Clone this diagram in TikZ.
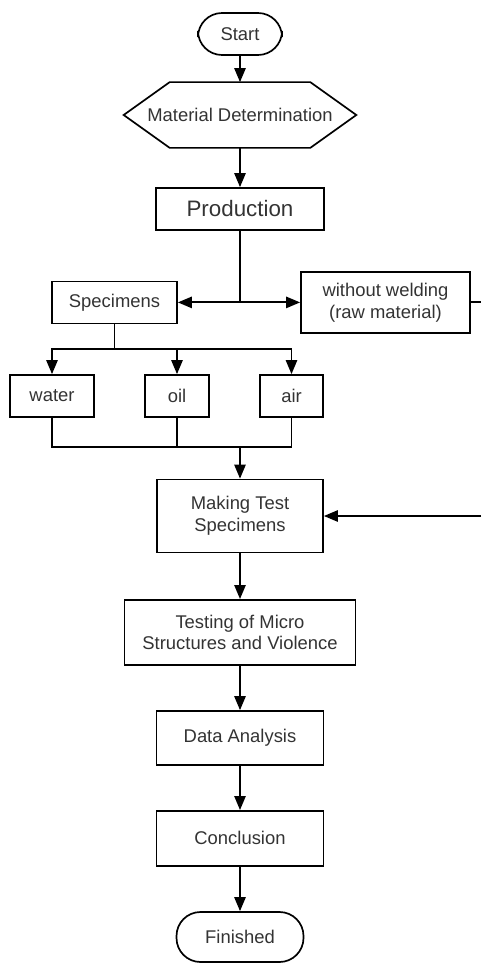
\documentclass[tikz,border=0pt]{standalone}
\usepackage{fontspec}
\setmainfont{Liberation Sans}
\usepackage{xcolor}
\usepackage{tikz}
\usetikzlibrary{arrows.meta}
\usetikzlibrary{calc}

\tikzset{
    box/.style={draw, line width=1.2pt, inner sep=0pt, align=center, text=black!80,
        font=\fontsize{13.1}{15.6}\selectfont},
    terminal/.style={box, rounded corners=0.6cm},
    arr/.style={line width=1.4pt, -{Triangle[length=10pt,width=8pt]}},
    line/.style={line width=1.4pt}
}

\begin{document}
\begin{tikzpicture}
                \useasboundingbox (0,0) rectangle (12.025,-24.075);
                % main column
                \node[terminal, minimum width=2.1cm, minimum height=1.05cm] (start) at (6.0,-0.85) {Start};
                \node[box, draw=none, minimum width=5.775cm, minimum height=1.6cm] (matdet) at (6.0,-2.875) {Material Determination};
                \draw[line width=1.2pt] (matdet.west) -- ([xshift=1.15cm]matdet.north west) -- ([xshift=-1.15cm]matdet.north east)
                    -- (matdet.east) -- ([xshift=-1.15cm]matdet.south east) -- ([xshift=1.15cm]matdet.south west) -- cycle;
                \node[box, minimum width=4.2cm, minimum height=1.05cm, font=\fontsize{15.9}{18}\selectfont] (prod) at (6.0,-5.225) {Production};
                % branches
                \node[box, minimum width=3.125cm, minimum height=1.05cm] (spec) at (2.8625,-7.56) {Specimens};
                \node[box, minimum width=4.225cm, minimum height=1.525cm] (raw) at (9.6375,-7.56) {without welding\\(raw material)};
                \node[box, minimum width=2.1cm, minimum height=1.05cm] (water) at (1.3,-9.9) {water};
                \node[box, minimum width=1.6cm, minimum height=1.05cm] (oil) at (4.425,-9.9) {oil};
                \node[box, minimum width=1.575cm, minimum height=1.05cm] (air) at (7.2875,-9.9) {air};
                \node[box, minimum width=4.15cm, minimum height=1.825cm] (making) at (6.0,-12.9) {Making Test\\Specimens};
                \node[box, minimum width=5.775cm, minimum height=1.625cm] (testing) at (6.0,-15.81) {Testing of Micro\\Structures and Violence};
                \node[box, minimum width=4.175cm, minimum height=1.35cm] (data) at (6.0,-18.45) {Data Analysis};
                \node[box, minimum width=4.175cm, minimum height=1.375cm] (concl) at (6.0,-20.96) {Conclusion};
                \node[terminal, minimum width=3.175cm, minimum height=1.25cm] (finish) at (6.0,-23.425) {Finished};

                % junctions
                \coordinate (fork) at (6.0,-7.56);
                \coordinate (split) at (2.8625,-8.725);
                \coordinate (merge) at (6.0,-11.175);
                \coordinate (rawout) at (12.025,-7.56);
                \coordinate (backin) at (12.025,-12.9);

                % connectors
                \draw[arr] (start) -- (matdet);
                \draw[arr] (matdet) -- (prod);
                \draw[line] (prod) -- (fork);
                \draw[arr] (fork) -- (spec);
                \draw[arr] (fork) -- (raw);
                \draw[line] (raw) -- (rawout);
                \draw[line] (spec) -- (split);
                \foreach \b in {water, oil, air} {
                    \draw[arr] (split) -| (\b);
                    \draw[line] (\b) |- (merge);
                }
                \draw[arr] (merge) -- (making);
                \draw[arr] (backin) -- (making);
                \draw[arr] (making) -- (testing);
                \draw[arr] (testing) -- (data);
                \draw[arr] (data) -- (concl);
                \draw[arr] (concl) -- (finish);
            \end{tikzpicture}
\end{document}
